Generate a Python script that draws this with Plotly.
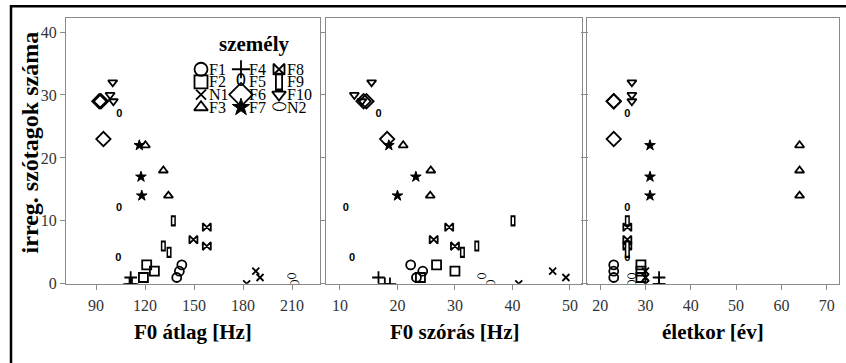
import plotly.graph_objects as go

W, H = 846, 363

# ---------------- data ----------------
speakers = ["F1", "F2", "N1", "F3", "F4", "F5", "F6", "F7", "F8", "F9", "F10", "N2"]

obs_speaker = ["F1", "F1", "F1", "F2", "F2", "F2", "N1", "N1", "N1",
               "F3", "F3", "F3", "F4", "F4", "F4", "F5", "F5", "F5",
               "F6", "F6", "F6", "F7", "F7", "F7", "F8", "F8", "F8",
               "F9", "F9", "F9", "F10", "F10", "F10", "N2", "N2"]
obs_irreg = [3, 2, 1, 3, 2, 1, 2, 1, 0,
             22, 18, 14, 1, 0, 0, 27, 12, 4,
             29, 29, 23, 22, 17, 14, 9, 7, 6,
             10, 6, 5, 32, 30, 29, 1, 0]
obs_f0_mean = [142.5, 141.0, 139.4, 121.0, 125.7, 119.0, 187.8, 190.4, 182.2,
               120.2, 131.2, 134.3, 111.2, 110.5, 112.0, 104.3, 104.1, 103.7,
               92.0, 93.0, 94.5, 116.5, 117.5, 118.0, 157.8, 149.6, 157.8,
               137.3, 131.2, 134.7, 100.2, 98.6, 100.6, 209.8, 211.2]
obs_f0_sd = [22.3, 24.4, 23.3, 26.8, 30.0, 24.0, 47.0, 49.3, 41.1,
             21.0, 25.8, 25.7, 16.7, 17.8, 18.7, 16.7, 11.0, 12.1,
             14.1, 14.6, 18.2, 18.5, 23.2, 20.0, 29.0, 26.3, 30.0,
             40.1, 33.8, 31.3, 15.5, 12.5, 13.8, 34.6, 36.1]
obs_age = [23, 23, 23, 29, 29, 29, 30, 30, 30,
           64, 64, 64, 33, 33, 33, 26, 26, 26,
           23, 23, 23, 31, 31, 31, 26, 26, 26,
           26, 26, 26, 27, 27, 27, 27, 27]

y_ticks = [0, 10, 20, 30, 40]
x1_ticks = [90, 120, 150, 180, 210]
x2_ticks = [10, 20, 30, 40, 50]
x3_ticks = [20, 30, 40, 50, 60, 70]

x_titles = ["F0 átlag [Hz]", "F0 szórás [Hz]", "életkor [év]"]
y_title = "irreg. szótagok száma"
legend_title = "személy"

# ---------------- styles ----------------
BLACK = "#000000"
GREY = "#8a8a8a"
SERIF = "Liberation Serif, Times New Roman, serif"
LW = 1.8

STYLE = {
    "F1": dict(symbol="circle-open", size=9, lsize=13),
    "F2": dict(symbol="square-open", size=9, lsize=13),
    "N1": dict(symbol="x-thin-open", size=7, lsize=10),
    "F3": dict(symbol="triangle-up-open", size=8, lsize=12),
    "F4": dict(symbol="cross-thin-open", size=9, lsize=13),
    "F5": dict(text="0", font=dict(family="Liberation Sans", size=11, weight="bold"),
               lfont=dict(family="DejaVu Sans", size=17)),
    "F6": dict(symbol="diamond-open", size=11, lsize=18),
    "F7": dict(symbol="star", size=8, lsize=13),
    "F8": dict(symbol="bowtie-open", size=8, lsize=11),
    "F9": dict(rect=(5, 8, 1.5), lrect=(8, 13, 1.8)),
    "F10": dict(symbol="triangle-down-open", size=8, lsize=12),
    "N2": dict(text="⬭", font=dict(family="DejaVu Sans", size=11),
               lfont=dict(family="DejaVu Sans", size=17)),
}


def add_mark(fig, xs, ys, st, xref, yref, legend=False):
    clip = not legend
    if "text" in st:
        fig.add_trace(go.Scatter(
            x=xs, y=ys, mode="text", text=[st["text"]] * len(xs),
            textposition="middle center",
            textfont=dict(color=BLACK, **(st["lfont"] if legend else st["font"])),
            xaxis=xref, yaxis=yref, showlegend=False, cliponaxis=clip, hoverinfo="skip"))
    elif "rect" in st:
        w, h, b = st["lrect"] if legend else st["rect"]
        fig.add_trace(go.Scatter(
            x=xs, y=ys, mode="markers",
            marker=dict(symbol="line-ns", size=h, color=BLACK, line=dict(color=BLACK, width=w)),
            xaxis=xref, yaxis=yref, showlegend=False, cliponaxis=clip, hoverinfo="skip"))
        fig.add_trace(go.Scatter(
            x=xs, y=ys, mode="markers",
            marker=dict(symbol="line-ns", size=h - 2 * b, color="white",
                        line=dict(color="white", width=w - 2 * b)),
            xaxis=xref, yaxis=yref, showlegend=False, cliponaxis=clip, hoverinfo="skip"))
    else:
        filled = not st["symbol"].endswith("open")
        fig.add_trace(go.Scatter(
            x=xs, y=ys, mode="markers",
            marker=dict(symbol=st["symbol"], size=st["lsize"] if legend else st["size"],
                        color=BLACK, line=dict(color=BLACK, width=1 if filled else LW)),
            xaxis=xref, yaxis=yref, showlegend=False, cliponaxis=clip, hoverinfo="skip"))


fig = go.Figure()

panels = [("x", obs_f0_mean), ("x2", obs_f0_sd), ("x3", obs_age)]
for xref, xvals in panels:
    yref = "y" if xref == "x" else "y" + xref[1:]
    for sp in speakers:
        idx = [i for i, s in enumerate(obs_speaker) if s == sp]
        add_mark(fig, [xvals[i] for i in idx], [obs_irreg[i] for i in idx],
                 STYLE[sp], xref, yref)

# ---------------- custom legend (overlay pixel axis) ----------------
col_x = [201, 241, 279]
row_y = [71, 84, 97, 110]
for i, sp in enumerate(speakers):
    c, r = i // 4, i % 4
    add_mark(fig, [col_x[c]], [row_y[r]], STYLE[sp], "x4", "y4", legend=True)
    fig.add_annotation(text=sp, x=col_x[c] + 6, y=row_y[r], xref="x4", yref="y4",
                       xanchor="left", yanchor="middle", showarrow=False,
                       font=dict(family=SERIF, size=16, color=BLACK))

# ---------------- layout ----------------
def px_x(p):
    return p / W

def px_y(p):
    return 1 - p / H

y_dom = [px_y(291), px_y(18)]
doms = [[px_x(66), px_x(320)], [px_x(326), px_x(582)], [px_x(587), px_x(839)]]
ranges = [[71.6, 227.1], [7.57, 52.1], [17.1, 72.7]]
ticks = [x1_ticks, x2_ticks, x3_ticks]

tickfont = dict(family=SERIF, size=16, color="#333333")
common_x = dict(showgrid=False, zeroline=False, showline=True, linecolor=GREY, linewidth=1,
                mirror=True, ticks="outside", ticklen=5, tickcolor=GREY, tickwidth=1,
                tickfont=tickfont, fixedrange=True, ticklabelstandoff=2)
common_y = dict(showgrid=False, zeroline=False, showline=True, linecolor=GREY, linewidth=1,
                ticks="outside", ticklen=5, tickcolor=GREY, tickwidth=1,
                tickfont=tickfont, range=[0, 42.3], tickvals=y_ticks, fixedrange=True)

layout = dict(
    width=W, height=H, margin=dict(l=0, r=0, t=0, b=0),
    paper_bgcolor="white", plot_bgcolor="rgba(0,0,0,0)",
    showlegend=False,
)
for k in range(3):
    sfx = "" if k == 0 else str(k + 1)
    layout["xaxis" + sfx] = dict(common_x, domain=doms[k], range=ranges[k], tickvals=ticks[k],
                                 anchor="y" + sfx)
    layout["yaxis" + sfx] = dict(common_y, domain=y_dom, anchor="x" + sfx,
                                 mirror="ticks" if k < 2 else True,
                                 showticklabels=(k == 0))

layout["xaxis4"] = dict(domain=[0, 1], range=[0, W], visible=False, anchor="y4", fixedrange=True)
layout["yaxis4"] = dict(domain=[0, 1], range=[H, 0], visible=False, anchor="x4", fixedrange=True)

fig.update_layout(**layout)

title_font = dict(family=SERIF, size=21, color=BLACK, weight="bold")
centers = [193, 454, 713]
for cx, t in zip(centers, x_titles):
    fig.add_annotation(text=t, x=px_x(cx), y=px_y(340), xref="paper", yref="paper",
                       xanchor="center", yanchor="middle", showarrow=False, font=title_font)
fig.add_annotation(text=y_title, x=px_x(30), y=px_y(146), xref="paper", yref="paper",
                   xanchor="center", yanchor="middle", showarrow=False, textangle=-90,
                   font=dict(title_font, size=24))
fig.add_annotation(text=legend_title, x=px_x(254), y=px_y(45), xref="paper", yref="paper",
                   xanchor="center", yanchor="middle", showarrow=False, font=title_font)

# outer frame (left and top edges of the enclosing box)
fig.add_shape(type="rect", xref="paper", yref="paper",
              x0=px_x(11), x1=1.05, y0=-0.05, y1=px_y(6.3),
              line=dict(color=BLACK, width=2.5), fillcolor="rgba(0,0,0,0)")

fig.write_html("out.html")
